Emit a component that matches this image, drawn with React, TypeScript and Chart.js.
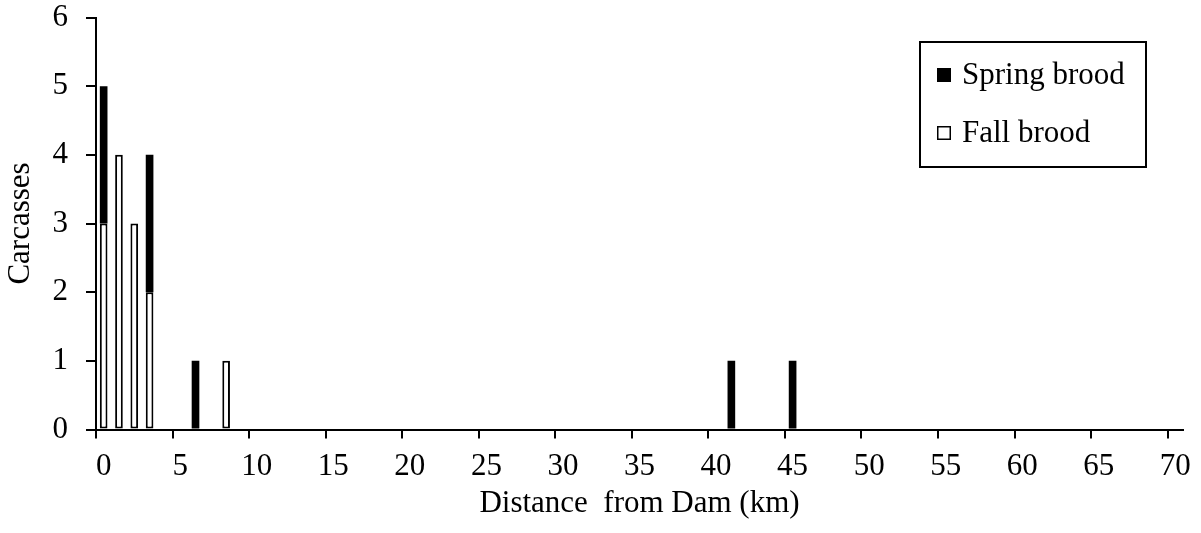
import React, { useEffect, useRef } from "react";
import { Chart, registerables } from "chart.js";

Chart.register(...registerables);

// Distance categories (km from dam), 0..70
const distanceKm: string[] = [
  "0","1","2","3","4","5","6","7","8","9",
  "10","11","12","13","14","15","16","17","18","19",
  "20","21","22","23","24","25","26","27","28","29",
  "30","31","32","33","34","35","36","37","38","39",
  "40","41","42","43","44","45","46","47","48","49",
  "50","51","52","53","54","55","56","57","58","59",
  "60","61","62","63","64","65","66","67","68","69",
  "70",
];

// Carcass counts
const springKm: number[] = [0, 3, 6, 41, 45];
const springCount: number[] = [2, 2, 1, 1, 1];
const fallKm: number[] = [0, 1, 2, 3, 8];
const fallCount: number[] = [3, 4, 3, 2, 1];

const yTicks: number[] = [0, 1, 2, 3, 4, 5, 6];

const FONT = "'Liberation Serif', 'Times New Roman', serif";
const FS = 31;

function toSeries(km: number[], counts: number[]): (number | null)[] {
  const out: (number | null)[] = distanceKm.map(() => null);
  km.forEach((k, i) => {
    out[distanceKm.indexOf(String(k))] = counts[i];
  });
  return out;
}

const legendPlugin = {
  id: "boxLegend",
  afterDraw(chart: any) {
    const { ctx, chartArea } = chart;
    const w = 226;
    const h = 125;
    const x = chartArea.right - 37 - w;
    const y = chartArea.top + 24.5;
    ctx.save();
    ctx.lineWidth = 2;
    ctx.strokeStyle = "#000";
    ctx.fillStyle = "#fff";
    ctx.fillRect(x, y, w, h);
    ctx.strokeRect(x, y, w, h);
    const items = [
      { label: chart.data.datasets[1].label, fill: "#000" },
      { label: chart.data.datasets[0].label, fill: "#fff" },
    ];
    ctx.font = `${FS}px ${FONT}`;
    ctx.textBaseline = "middle";
    ctx.textAlign = "left";
    items.forEach((it, i) => {
      const cy = y + 33 + i * 58;
      const sx = x + 17;
      ctx.fillStyle = it.fill;
      ctx.fillRect(sx, cy - 7, 14, 14);
      ctx.lineWidth = 1.5;
      ctx.strokeStyle = "#000";
      ctx.strokeRect(sx + 0.75, cy - 6.25, 12.5, 12.5);
      ctx.fillStyle = "#000";
      ctx.fillText(it.label, sx + 25, cy + 1);
    });
    ctx.restore();
  },
};

export default function App() {
  const canvasRef = useRef<HTMLCanvasElement | null>(null);

  useEffect(() => {
    if (!canvasRef.current) return;
    const chart = new Chart(canvasRef.current, {
      type: "bar",
      data: {
        labels: distanceKm,
        datasets: [
          {
            label: "Fall brood",
            data: toSeries(fallKm, fallCount),
            backgroundColor: "#fff",
            borderColor: "#000",
            borderWidth: 2,
            borderSkipped: false,
            categoryPercentage: 1,
            barPercentage: 0.5,
            stack: "s",
          },
          {
            label: "Spring brood",
            data: toSeries(springKm, springCount),
            backgroundColor: "#000",
            borderColor: "#000",
            borderWidth: 0,
            categoryPercentage: 1,
            barPercentage: 0.5,
            stack: "s",
          },
        ],
      },
      options: {
        animation: false,
        responsive: true,
        maintainAspectRatio: false,
        layout: { padding: { top: 17.5, right: 18, left: 0, bottom: 0 } },
        plugins: {
          legend: { display: false },
          tooltip: { enabled: false },
        },
        scales: {
          x: {
            type: "category",
            stacked: true,
            offset: true,
            grid: {
              offset: true,
              drawOnChartArea: false,
              drawTicks: true,
              tickLength: 9,
              lineWidth: 2,
              tickWidth: 2,
              tickColor: (ctx: any) =>
                ctx.index % 5 === 0 && ctx.index <= 70 ? "#000" : "rgba(0,0,0,0)",
            },
            border: { display: true, color: "#000", width: 2 },
            ticks: {
              autoSkip: false,
              maxRotation: 0,
              minRotation: 0,
              padding: 13,
              color: "#000",
              font: { family: FONT, size: FS, lineHeight: 1 },
              callback: (_v: any, i: number) => (i % 5 === 0 ? distanceKm[i] : ""),
            },
            title: {
              display: true,
              text: "Distance  from Dam (km)",
              color: "#000",
              font: { family: FONT, size: FS, lineHeight: 1 },
              padding: { top: 0, bottom: 14 },
            },
            afterFit: (scale: any) => {
              scale.height = 103.5;
              scale.paddingLeft = 0;
              scale.paddingRight = 0;
            },
          },
          y: {
            stacked: true,
            min: 0,
            max: 6,
            afterBuildTicks: (scale: any) => {
              scale.ticks = yTicks.map((v) => ({ value: v }));
            },
            grid: {
              drawOnChartArea: false,
              drawTicks: true,
              tickLength: 10,
              lineWidth: 2,
              tickWidth: 2,
              tickColor: "#000",
            },
            border: { display: true, color: "#000", width: 2 },
            ticks: {
              padding: 18,
              color: "#000",
              font: { family: FONT, size: FS, lineHeight: 1 },
            },
            title: {
              display: true,
              text: "Carcasses",
              color: "#000",
              font: { family: FONT, size: FS, lineHeight: 1 },
              padding: { top: 5, bottom: 0 },
            },
            afterFit: (scale: any) => {
              scale.width = 96;
              scale.paddingTop = 0;
              scale.paddingBottom = 0;
            },
          },
        },
      },
      plugins: [legendPlugin],
    });
    return () => chart.destroy();
  }, []);

  return (
    <div style={{ position: "absolute", left: 0, top: 0, width: 1201, height: 533, background: "#fff" }}>
      <canvas ref={canvasRef} />
    </div>
  );
}
